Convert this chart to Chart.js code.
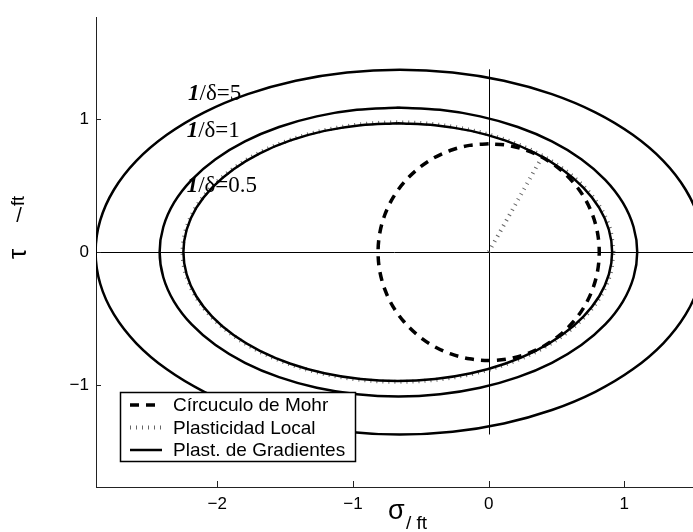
<!DOCTYPE html>
<html>
<head>
<meta charset="utf-8">
<script src="https://cdn.jsdelivr.net/npm/chart.js@4.4.1/dist/chart.umd.min.js"></script>
<style>
  html, body { margin: 0; padding: 0; background: #fff; }
  canvas { display: block; }
</style>
</head>
<body>
<canvas id="c" width="693" height="532"></canvas>
<script>
// Legend entries
const legendLabels = ['Círcuculo de Mohr', 'Plasticidad Local', 'Plast. de Gradientes'];
// Curve annotations for the gradient-plasticity surfaces
const gradientLabels = ['1/δ=0.5', '1/δ=1', '1/δ=5'];

// Axis ticks
const sigmaTicks = [-2, -1, 0, 1];
const tauTicks = [-1, 0, 1];

// Mohr circle (σ, τ), starting at the top
const mohrSigma = [0, -0.141, -0.279, -0.408, -0.524, -0.624, -0.706, -0.766, -0.803, -0.815, -0.803, -0.766, -0.706, -0.624, -0.524, -0.408, -0.279, -0.141, 0, 0.141, 0.279, 0.408, 0.524, 0.624, 0.706, 0.766, 0.803, 0.815, 0.803, 0.766, 0.706, 0.624, 0.524, 0.408, 0.279, 0.141, 0];
const mohrTau   = [0.815, 0.803, 0.766, 0.706, 0.624, 0.524, 0.408, 0.279, 0.141, 0, -0.141, -0.279, -0.408, -0.524, -0.624, -0.706, -0.766, -0.803, -0.815, -0.803, -0.766, -0.706, -0.624, -0.524, -0.408, -0.279, -0.141, 0, 0.141, 0.279, 0.408, 0.524, 0.624, 0.706, 0.766, 0.803, 0.815];

// Local plasticity surface and its radial segment
const localSigma = [0.920, 0.896, 0.824, 0.707, 0.548, 0.353, 0.126, -0.125, -0.392, -0.668, -0.944, -1.211, -1.462, -1.689, -1.884, -2.043, -2.160, -2.232, -2.256, -2.232, -2.160, -2.043, -1.884, -1.689, -1.462, -1.211, -0.944, -0.668, -0.392, -0.125, 0.126, 0.353, 0.548, 0.707, 0.824, 0.896, 0.920];
const localTau   = [0, 0.169, 0.334, 0.488, 0.627, 0.748, 0.845, 0.917, 0.961, 0.976, 0.961, 0.917, 0.845, 0.748, 0.627, 0.488, 0.334, 0.169, 0, -0.169, -0.334, -0.488, -0.627, -0.748, -0.845, -0.917, -0.961, -0.976, -0.961, -0.917, -0.845, -0.748, -0.627, -0.488, -0.334, -0.169, 0];
const localRaySigma = [0, 0.385];
const localRayTau   = [0, 0.700];

// Gradient plasticity surfaces, 1/δ = 0.5 and 1 (starting at the top)
const grad05Sigma = [-0.670, -0.944, -1.210, -1.460, -1.686, -1.880, -2.038, -2.155, -2.226, -2.250, -2.226, -2.155, -2.038, -1.880, -1.686, -1.460, -1.210, -0.944, -0.670, -0.396, -0.130, 0.120, 0.346, 0.540, 0.698, 0.815, 0.886, 0.910, 0.886, 0.815, 0.698, 0.540, 0.346, 0.120, -0.130, -0.396, -0.670];
const grad05Tau   = [0.970, 0.955, 0.912, 0.840, 0.743, 0.624, 0.485, 0.332, 0.168, 0, -0.168, -0.332, -0.485, -0.624, -0.743, -0.840, -0.912, -0.955, -0.970, -0.955, -0.912, -0.840, -0.743, -0.624, -0.485, -0.332, -0.168, 0, 0.168, 0.332, 0.485, 0.624, 0.743, 0.840, 0.912, 0.955, 0.970];

const grad1Sigma = [-0.665, -0.971, -1.267, -1.545, -1.796, -2.013, -2.189, -2.319, -2.398, -2.425, -2.398, -2.319, -2.189, -2.013, -1.796, -1.545, -1.267, -0.971, -0.665, -0.359, -0.063, 0.215, 0.466, 0.683, 0.859, 0.989, 1.068, 1.095, 1.068, 0.989, 0.859, 0.683, 0.466, 0.215, -0.063, -0.359, -0.665];
const grad1Tau   = [1.087, 1.070, 1.021, 0.941, 0.833, 0.699, 0.544, 0.372, 0.189, 0, -0.189, -0.372, -0.544, -0.699, -0.833, -0.941, -1.021, -1.070, -1.087, -1.070, -1.021, -0.941, -0.833, -0.699, -0.544, -0.372, -0.189, 0, 0.189, 0.372, 0.544, 0.699, 0.833, 0.941, 1.021, 1.070, 1.087];

// Gradient plasticity surface, 1/δ = 5
const grad5Sigma = [1.587, 1.553, 1.452, 1.287, 1.062, 0.786, 0.466, 0.112, -0.266, -0.655, -1.044, -1.422, -1.776, -2.096, -2.372, -2.597, -2.762, -2.863, -2.897, -2.863, -2.762, -2.597, -2.372, -2.096, -1.776, -1.422, -1.044, -0.655, -0.266, 0.112, 0.466, 0.786, 1.062, 1.287, 1.452, 1.553, 1.587];
const grad5Tau   = [0, 0.238, 0.469, 0.686, 0.882, 1.051, 1.188, 1.289, 1.351, 1.372, 1.351, 1.289, 1.188, 1.051, 0.882, 0.686, 0.469, 0.238, 0, -0.238, -0.469, -0.686, -0.882, -1.051, -1.188, -1.289, -1.351, -1.372, -1.351, -1.289, -1.188, -1.051, -0.882, -0.686, -0.469, -0.238, 0];

// Extent of the vertical σ = 0 reference line
const zeroLineTau = [-1.372, 1.375];

const SANS = '"Liberation Sans", Arial, Helvetica, sans-serif';
const SERIF = '"Liberation Serif", "Times New Roman", serif';

const pts = (s, t) => s.map((v, i) => ({ x: v, y: t[i] }));
const fmt = v => (v < 0 ? '\u2212' + Math.abs(v) : String(v));

const styles = {
  mohr:  { borderColor: '#000', borderWidth: 3.5, borderDash: [9, 7] },
  local: { borderColor: '#666', borderWidth: 4, borderDash: [1, 5] },
  grad:  { borderColor: '#000', borderWidth: 2.5, borderDash: [] }
};

// Where each gradient label sits, in data units (left edge, baseline)
const labelAnchors = [[-2.226, 0.450], [-2.226, 0.864], [-2.216, 1.144]];

const overlay = {
  id: 'overlay',
  beforeDatasetsDraw(chart) {
    const { ctx, chartArea: a, scales: { x, y } } = chart;
    ctx.save();
    ctx.strokeStyle = '#000';
    ctx.lineWidth = 1;
    const y0 = Math.round(y.getPixelForValue(0)) + 0.5;
    ctx.beginPath(); ctx.moveTo(a.left, y0); ctx.lineTo(a.right, y0); ctx.stroke();
    const x0 = Math.round(x.getPixelForValue(0)) + 0.5;
    ctx.beginPath();
    ctx.moveTo(x0, y.getPixelForValue(zeroLineTau[1]));
    ctx.lineTo(x0, y.getPixelForValue(zeroLineTau[0]));
    ctx.stroke();
    // inward tick marks
    ctx.strokeStyle = '#222';
    sigmaTicks.forEach(v => {
      const px = Math.round(x.getPixelForValue(v)) + 0.5;
      ctx.beginPath(); ctx.moveTo(px, a.bottom); ctx.lineTo(px, a.bottom - 6); ctx.stroke();
    });
    tauTicks.forEach(v => {
      const py = Math.round(y.getPixelForValue(v)) + 0.5;
      ctx.beginPath(); ctx.moveTo(a.left, py); ctx.lineTo(a.left + 5, py); ctx.stroke();
    });
    ctx.restore();
  },
  afterDatasetsDraw(chart) {
    const { ctx, scales: { x, y } } = chart;
    ctx.save();
    ctx.fillStyle = '#000';
    ctx.textBaseline = 'alphabetic';
    ctx.textAlign = 'left';
    gradientLabels.forEach((txt, i) => {
      const px = x.getPixelForValue(labelAnchors[i][0]);
      const py = y.getPixelForValue(labelAnchors[i][1]);
      ctx.font = `italic bold 23px ${SERIF}`;
      ctx.fillText(txt[0], px, py);
      const w = ctx.measureText(txt[0]).width;
      ctx.font = `23px ${SERIF}`;
      ctx.fillText(txt.slice(1), px + w, py);
    });
    ctx.restore();
  },
  afterDraw(chart) {
    const { ctx } = chart;
    ctx.save();
    ctx.fillStyle = '#000';
    ctx.textBaseline = 'alphabetic';

    // y title: τ / ft, reading upward
    ctx.save();
    ctx.translate(26, 259);
    ctx.rotate(-Math.PI / 2);
    ctx.textAlign = 'left';
    ctx.font = `26px ${SANS}`;
    ctx.fillText('τ', 0, 0);
    ctx.font = `18px ${SANS}`;
    ctx.fillText('ft', 53, -2);
    ctx.restore();
    ctx.textAlign = 'center';
    ctx.font = `20px ${SANS}`;
    ctx.fillText('/', 19, 222);

    // x title: σ / ft
    ctx.textAlign = 'left';
    ctx.font = `27px ${SANS}`;
    ctx.fillText('σ', 388, 519);
    ctx.font = `19px ${SANS}`;
    ctx.fillText('/ ft', 406, 529);

    // legend
    const lx = 120, ly = 392, lw = 235, lh = 69;
    ctx.fillStyle = '#fff';
    ctx.fillRect(lx, ly, lw, lh);
    ctx.strokeStyle = '#000';
    ctx.lineWidth = 1.5;
    ctx.strokeRect(lx + 0.5, ly + 0.5, lw, lh);
    const rows = [405, 427.5, 450];
    const rowStyles = [styles.mohr, styles.local, styles.grad];
    legendLabels.forEach((txt, i) => {
      const s = rowStyles[i];
      ctx.strokeStyle = s.borderColor;
      ctx.lineWidth = s.borderWidth;
      ctx.setLineDash(s.borderDash);
      ctx.lineCap = 'butt';
      ctx.beginPath(); ctx.moveTo(130, rows[i]); ctx.lineTo(162, rows[i]); ctx.stroke();
      ctx.setLineDash([]);
      ctx.fillStyle = '#000';
      ctx.font = `19px ${SANS}`;
      ctx.textBaseline = 'middle';
      ctx.fillText(txt, 173, rows[i] + 1);
    });
    ctx.restore();
  }
};

const T = 0.335;

new Chart(document.getElementById('c'), {
  type: 'scatter',
  data: {
    datasets: [
      { label: legendLabels[0], data: pts(mohrSigma, mohrTau), ...styles.mohr, showLine: true, tension: T, order: 0 },
      { label: legendLabels[2] + ' ' + gradientLabels[0], data: pts(grad05Sigma, grad05Tau), ...styles.grad, showLine: true, tension: T, order: 1 },
      { label: legendLabels[2] + ' ' + gradientLabels[1], data: pts(grad1Sigma, grad1Tau), ...styles.grad, showLine: true, tension: T, order: 1 },
      { label: legendLabels[2] + ' ' + gradientLabels[2], data: pts(grad5Sigma, grad5Tau), ...styles.grad, showLine: true, tension: T, order: 1 },
      { label: legendLabels[1], data: pts(localSigma, localTau), ...styles.local, showLine: true, tension: T, order: 2 },
      { label: legendLabels[1] + ' radio', data: pts(localRaySigma, localRayTau), ...styles.local, showLine: true, tension: 0, order: 2 }
    ]
  },
  options: {
    responsive: false,
    animation: false,
    devicePixelRatio: 1,
    events: [],
    layout: { padding: { top: 10, left: 0, right: 0, bottom: 0 } },
    elements: {
      point: { radius: 0, hoverRadius: 0 },
      line: { capBezierPoints: false, fill: false, borderCapStyle: 'butt' }
    },
    plugins: { legend: { display: false }, tooltip: { enabled: false } },
    scales: {
      x: {
        type: 'linear', min: -2.894, max: 1.506,
        afterFit: s => { s.height = 45; },
        grid: { display: false, drawTicks: false },
        border: { display: true, color: '#222', width: 1 },
        ticks: { stepSize: 1, includeBounds: false, autoSkip: false, maxRotation: 0, padding: 7,
                 color: '#000', font: { family: SANS, size: 17 }, callback: v => fmt(v) }
      },
      y: {
        type: 'linear', min: -1.767, max: 1.767,
        afterFit: s => { s.width = 96; },
        grid: { display: false, drawTicks: false },
        border: { display: true, color: '#222', width: 1 },
        ticks: { stepSize: 1, includeBounds: false, autoSkip: false, padding: 7,
                 color: '#000', font: { family: SANS, size: 17 }, callback: v => fmt(v) }
      }
    }
  },
  plugins: [overlay]
});
</script>
</body>
</html>
